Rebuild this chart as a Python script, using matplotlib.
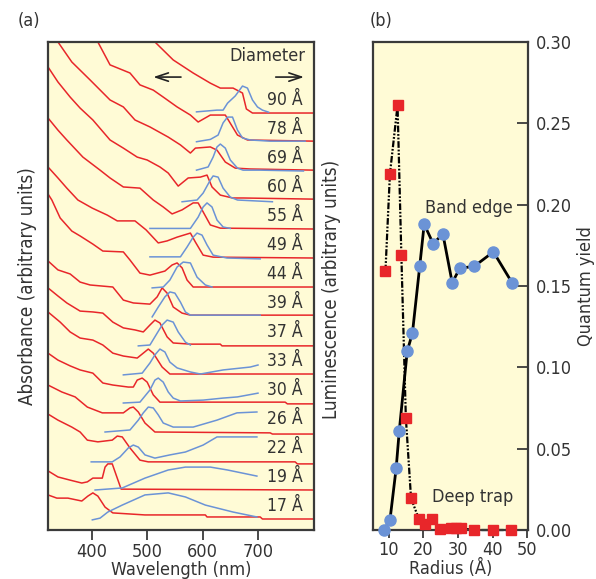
import matplotlib
matplotlib.use('Agg')
import matplotlib.pyplot as plt
from matplotlib import font_manager as fm

# ---------------- font selection (condensed sans if available) ----------------
FONT = 'Liberation Sans'
STRETCH = 'normal'
_entries = fm.fontManager.ttflist
for _e in _entries:
    if _e.name == 'Liberation Sans Narrow' and _e.style == 'normal':
        FONT, STRETCH = _e.name, _e.stretch
        break
else:
    for _e in _entries:
        fn = _e.fname
        if ('Condensed' in fn or 'Narrow' in fn) and 'Sans' in fn and not any(
                s in fn for s in ('Bold', 'Oblique', 'Italic', 'Mono', 'Serif', 'Light', 'ExtraLight')):
            FONT, STRETCH = _e.name, _e.stretch
            break
plt.rcParams['font.family'] = [FONT, 'DejaVu Sans']
plt.rcParams['font.stretch'] = STRETCH

# ---------------- data: panel (a) ----------------
diameters = [17, 19, 22, 26, 30, 33, 37, 39, 44, 49, 55, 60, 69, 78, 90]

abs_wl_17 = [321, 337, 357, 382, 393, 402, 411, 424, 438, 496, 605, 608, 704, 708, 802]
abs_val_17 = [0.83, 0.72, 0.72, 0.62, 0.79, 0.90, 0.79, 0.41, 0.21, 0.14, 0.14, 0.07, 0.07, 0.0, 0.0]
abs_wl_19 = [321, 339, 361, 382, 392, 402, 419, 424, 429, 437, 446, 453, 802]
abs_val_19 = [0.66, 0.45, 0.34, 0.24, 0.28, 0.41, 0.41, 0.79, 0.90, 0.90, 0.41, 0.03, 0.0]
abs_wl_22 = [321, 339, 364, 379, 392, 411, 437, 446, 455, 469, 487, 502, 767, 771, 802]
abs_val_22 = [1.62, 1.41, 1.17, 1.00, 0.72, 0.66, 0.72, 0.86, 0.83, 0.45, 0.03, -0.03, -0.03, -0.10, -0.10]
abs_wl_26 = [321, 346, 370, 392, 419, 457, 469, 475, 484, 496, 514, 722, 726, 802]
abs_val_26 = [1.62, 1.38, 1.21, 0.86, 0.66, 0.66, 0.83, 0.86, 0.69, 0.31, 0.0, -0.03, -0.07, -0.07]
abs_wl_30 = [321, 339, 361, 379, 402, 420, 438, 466, 475, 482, 491, 500, 511, 523, 749, 753, 802]
abs_val_30 = [1.72, 1.48, 1.28, 1.14, 1.03, 0.69, 0.62, 0.55, 0.55, 0.79, 0.86, 0.72, 0.28, 0.03, 0.03, -0.03, -0.03]
abs_wl_33 = [321, 343, 361, 379, 402, 420, 438, 457, 482, 493, 502, 511, 527, 541, 802]
abs_val_33 = [2.14, 1.79, 1.45, 1.24, 1.17, 1.00, 0.72, 0.62, 0.55, 0.72, 0.86, 0.72, 0.24, 0.0, 0.0]
abs_wl_37 = [321, 339, 355, 379, 402, 420, 438, 457, 478, 493, 505, 514, 523, 536, 547, 578, 632, 635, 802]
abs_val_37 = [1.97, 1.69, 1.45, 1.17, 1.14, 1.10, 0.79, 0.59, 0.52, 0.45, 0.69, 0.86, 0.76, 0.28, 0.07, 0.03, 0.03, -0.03, -0.03]
abs_wl_39 = [321, 339, 361, 379, 397, 438, 457, 475, 505, 518, 527, 536, 547, 563, 578, 802]
abs_val_39 = [1.90, 1.59, 1.45, 1.17, 1.07, 1.00, 0.55, 0.45, 0.41, 0.66, 0.97, 0.79, 0.31, 0.10, 0.03, 0.03]
abs_wl_44 = [321, 328, 343, 364, 379, 402, 420, 457, 469, 487, 505, 532, 545, 554, 563, 572, 583, 802]
abs_val_44 = [3.21, 3.00, 2.38, 1.93, 1.76, 1.48, 1.24, 1.21, 0.93, 0.48, 0.41, 0.55, 0.76, 0.83, 0.66, 0.24, 0.0, 0.0]
abs_wl_49 = [321, 339, 355, 375, 401, 428, 446, 478, 498, 520, 536, 554, 578, 587, 601, 619, 802]
abs_val_49 = [3.14, 2.76, 2.41, 2.00, 1.72, 1.48, 1.28, 1.28, 0.97, 0.52, 0.59, 0.72, 0.86, 0.55, 0.10, 0.03, 0.0]
abs_wl_55 = [321, 339, 355, 384, 415, 433, 457, 487, 511, 529, 545, 563, 583, 592, 599, 614, 632, 802]
abs_val_55 = [3.83, 3.41, 3.07, 2.48, 2.03, 1.76, 1.45, 1.41, 1.00, 0.76, 0.52, 0.66, 0.90, 0.90, 0.66, 0.14, 0.03, 0.0]
abs_wl_60 = [321, 339, 361, 379, 402, 433, 457, 482, 500, 523, 538, 556, 574, 596, 608, 617, 632, 654, 673, 802]
abs_val_60 = [4.59, 4.07, 3.55, 3.17, 2.76, 2.07, 1.79, 1.48, 1.38, 1.14, 0.93, 0.48, 0.76, 0.79, 0.86, 0.45, 0.17, 0.07, 0.07, 0.03]
abs_wl_69 = [325, 339, 364, 397, 433, 457, 478, 505, 538, 560, 578, 587, 614, 626, 641, 659, 686, 802]
abs_val_69 = [4.86, 4.45, 3.76, 3.14, 2.45, 2.21, 1.76, 1.52, 1.17, 0.90, 0.62, 0.79, 0.83, 0.72, 0.31, 0.10, 0.07, 0.03]
abs_wl_78 = [397, 411, 433, 469, 487, 511, 529, 554, 578, 592, 614, 641, 663, 681, 802]
abs_val_78 = [4.21, 3.45, 2.66, 2.38, 1.97, 1.79, 1.55, 1.21, 0.93, 0.69, 0.93, 0.93, 0.24, 0.07, 0.03]
abs_wl_90 = [487, 514, 547, 583, 614, 632, 655, 672, 679, 690, 802]
abs_val_90 = [3.03, 2.45, 1.83, 1.38, 1.03, 0.86, 0.86, 0.69, 0.14, 0.0, 0.0]

lum_wl_17 = [401, 415, 429, 455, 496, 538, 569, 605, 655, 698]
lum_val_17 = [-0.03, 0.03, 0.24, 0.48, 0.83, 0.90, 0.76, 0.48, 0.24, 0.07]
lum_wl_19 = [406, 455, 496, 538, 569, 614, 645, 698]
lum_val_19 = [0.0, 0.07, 0.41, 0.69, 0.79, 0.79, 0.69, 0.48]
lum_wl_22 = [399, 437, 451, 466, 475, 484, 496, 514, 541, 569, 601, 626, 644, 698]
lum_val_22 = [-0.03, -0.03, 0.14, 0.45, 0.55, 0.48, 0.21, 0.10, 0.21, 0.31, 0.55, 0.83, 0.83, 0.83]
lum_wl_26 = [424, 469, 484, 493, 502, 511, 520, 529, 547, 583, 626, 662, 698]
lum_val_26 = [0.0, 0.07, 0.41, 0.66, 0.86, 0.83, 0.59, 0.31, 0.17, 0.17, 0.41, 0.66, 0.69]
lum_wl_30 = [457, 487, 505, 514, 520, 529, 538, 547, 560, 601, 637, 663, 700]
lum_val_30 = [0.0, 0.03, 0.45, 0.79, 0.86, 0.72, 0.38, 0.17, 0.07, 0.10, 0.17, 0.21, 0.34]
lum_wl_33 = [457, 491, 505, 514, 523, 532, 541, 554, 578, 596, 637, 686, 700]
lum_val_33 = [-0.03, 0.03, 0.38, 0.66, 0.86, 0.76, 0.41, 0.21, 0.07, 0.0, 0.14, 0.24, 0.31]
lum_wl_37 = [484, 505, 518, 527, 536, 547, 556, 569, 578]
lum_val_37 = [-0.03, 0.0, 0.41, 0.69, 0.86, 0.79, 0.45, 0.10, 0.0]
lum_wl_39 = [509, 520, 532, 541, 550, 560, 569, 578, 704]
lum_val_39 = [-0.03, 0.31, 0.66, 0.83, 0.79, 0.48, 0.14, 0.03, 0.03]
lum_wl_44 = [509, 529, 541, 554, 565, 578, 590, 605, 617]
lum_val_44 = [-0.03, 0.0, 0.24, 0.69, 0.86, 0.83, 0.34, 0.07, 0.0]
lum_wl_49 = [505, 560, 572, 583, 590, 599, 608, 619, 644, 704]
lum_val_49 = [0.04, 0.04, 0.38, 0.72, 0.86, 0.79, 0.45, 0.10, 0.0, -0.03]
lum_wl_55 = [505, 578, 592, 601, 608, 617, 626, 637, 650]
lum_val_55 = [0.02, 0.02, 0.41, 0.76, 0.90, 0.76, 0.31, 0.07, 0.02]
lum_wl_60 = [563, 590, 601, 614, 619, 628, 637, 650, 663, 726]
lum_val_60 = [-0.06, 0.0, 0.24, 0.69, 0.83, 0.79, 0.41, 0.10, 0.0, -0.06]
lum_wl_69 = [589, 610, 619, 626, 632, 641, 650, 663, 673, 704, 782]
lum_val_69 = [0.03, 0.14, 0.48, 0.83, 0.93, 0.79, 0.38, 0.10, 0.03, 0.03, 0.0]
lum_wl_78 = [589, 614, 628, 637, 645, 654, 663, 672, 686, 722, 785]
lum_val_78 = [0.01, 0.09, 0.24, 0.66, 0.86, 0.86, 0.41, 0.14, 0.07, 0.03, 0.03]
lum_wl_90 = [589, 626, 637, 645, 659, 672, 681, 690, 699, 708, 719]
lum_val_90 = [0.04, 0.10, 0.10, 0.34, 0.59, 0.93, 0.86, 0.45, 0.21, 0.10, 0.03]

wl_ticks = [400, 500, 600, 700]

# ---------------- data: panel (b) ----------------
deep_radius = [9.0, 10.3, 12.5, 13.6, 14.9, 16.4, 18.7, 20.5, 22.5, 24.8, 27.9, 29.3, 30.9, 34.7, 40.0, 45.2]
deep_yield = [0.159, 0.219, 0.261, 0.169, 0.069, 0.0195, 0.0066, 0.0035, 0.0068, 0.0004,
              0.001, 0.001, 0.001, 0.0, 0.0, 0.0]
band_radius = [8.6, 10.3, 12.1, 13.0, 15.3, 16.8, 18.9, 20.2, 22.8, 25.6, 28.3, 30.5, 34.6, 40.2, 45.6]
band_yield = [0.0, 0.006, 0.038, 0.061, 0.110, 0.121, 0.162, 0.188, 0.176, 0.182, 0.152, 0.161,
              0.162, 0.171, 0.152]
radius_ticks = [10, 20, 30, 40, 50]
yield_ticks = [0.00, 0.05, 0.10, 0.15, 0.20, 0.25, 0.30]

# ---------------- styling ----------------
BG = '#fffbd6'
RED = '#e8262a'
BLUE = '#6b93d6'
SPINE = '#3a3a3a'
TXT = '#333333'
FS = 13

abs_wl = [abs_wl_17, abs_wl_19, abs_wl_22, abs_wl_26, abs_wl_30, abs_wl_33, abs_wl_37, abs_wl_39,
          abs_wl_44, abs_wl_49, abs_wl_55, abs_wl_60, abs_wl_69, abs_wl_78, abs_wl_90]
abs_val = [abs_val_17, abs_val_19, abs_val_22, abs_val_26, abs_val_30, abs_val_33, abs_val_37, abs_val_39,
           abs_val_44, abs_val_49, abs_val_55, abs_val_60, abs_val_69, abs_val_78, abs_val_90]
lum_wl = [lum_wl_17, lum_wl_19, lum_wl_22, lum_wl_26, lum_wl_30, lum_wl_33, lum_wl_37, lum_wl_39,
          lum_wl_44, lum_wl_49, lum_wl_55, lum_wl_60, lum_wl_69, lum_wl_78, lum_wl_90]
lum_val = [lum_val_17, lum_val_19, lum_val_22, lum_val_26, lum_val_30, lum_val_33, lum_val_37, lum_val_39,
           lum_val_44, lum_val_49, lum_val_55, lum_val_60, lum_val_69, lum_val_78, lum_val_90]

fig = plt.figure(figsize=(5.96, 5.79), dpi=100)
fig.patch.set_facecolor('white')

# ---------------- panel (a) ----------------
axa = fig.add_axes([0.0805, 0.0846, 0.4463, 0.8429])
axa.set_facecolor(BG)
for k, d in enumerate(diameters):
    axa.plot(abs_wl[k], [k + v for v in abs_val[k]], color=RED, lw=1.1, zorder=2)
    axa.plot(lum_wl[k], [k + v for v in lum_val[k]], color=BLUE, lw=1.1, zorder=3)
    axa.text(780, k + 0.45, f'{d} Å', ha='right', va='center',
             fontsize=FS - 0.5, color=TXT, zorder=4)
axa.text(785, 15.97, 'Diameter', ha='right', va='center', fontsize=FS, color=TXT)
axa.annotate('', xy=(506, 15.24), xytext=(566, 15.24),
             arrowprops=dict(arrowstyle='->,head_length=0.9,head_width=0.3', color='#222222', lw=1.2))
axa.annotate('', xy=(788, 15.24), xytext=(727, 15.24),
             arrowprops=dict(arrowstyle='->,head_length=0.9,head_width=0.3', color='#222222', lw=1.2))
axa.set_xlim(321, 801)
axa.set_ylim(-0.38, 16.45)
axa.set_yticks([])
axa.set_xticks(wl_ticks)
axa.tick_params(axis='x', direction='out', length=7, width=1.3, color=SPINE,
                labelsize=FS, labelcolor=TXT, pad=2)
for s in axa.spines.values():
    s.set_color(SPINE)
    s.set_linewidth(1.6)
axa.set_xlabel('Wavelength (nm)', fontsize=FS, color=TXT, labelpad=0)
axa.set_ylabel('Absorbance (arbitrary units)', fontsize=FS + 0.5, color=TXT, labelpad=8)

# ---------------- panel (b) ----------------
axb = fig.add_axes([0.6258, 0.0846, 0.2601, 0.8429])
axb.set_facecolor(BG)
axb.plot(band_radius, band_yield, color='black', lw=2.0, zorder=2, clip_on=False)
axb.plot(deep_radius, deep_yield, color='black', lw=1.6, zorder=2, clip_on=False,
         dashes=(3.0, 0.8, 0.8, 0.8, 0.8, 0.8))
axb.plot(band_radius, band_yield, ls='none', marker='o', ms=8.0, mfc=BLUE, mec=BLUE,
         zorder=4, clip_on=False)
axb.plot(deep_radius, deep_yield, ls='none', marker='s', ms=7.2, mfc=RED, mec=RED,
         zorder=4, clip_on=False)
axb.text(45.9, 0.198, 'Band edge', ha='right', va='center', fontsize=FS, color=TXT)
axb.text(45.9, 0.020, 'Deep trap', ha='right', va='center', fontsize=FS, color=TXT)
axb.set_xlim(5.4, 50.2)
axb.set_ylim(0.0, 0.30)
axb.set_xticks(radius_ticks)
axb.set_yticks(yield_ticks)
axb.set_yticklabels([f'{t:.2f}' for t in yield_ticks])
axb.yaxis.tick_right()
axb.yaxis.set_label_position('right')
axb.tick_params(axis='y', direction='in', length=8, width=1.3, color=SPINE,
                labelsize=FS, labelcolor=TXT, pad=6)
axb.tick_params(axis='x', direction='out', length=6, width=1.3, color=SPINE,
                labelsize=FS, labelcolor=TXT, pad=2)
for s in axb.spines.values():
    s.set_color(SPINE)
    s.set_linewidth(1.6)
axb.set_xlabel('Radius (Å)', fontsize=FS, color=TXT, labelpad=0)
axb.set_ylabel('Quantum yield', fontsize=FS, color=TXT, labelpad=3, rotation=90)
fig.text(0.556, 0.50, 'Luminescence (arbitrary units)', rotation=90, ha='center', va='center',
         fontsize=FS + 0.5, color=TXT)

fig.text(0.048, 0.963, '(a)', ha='center', va='center', fontsize=FS, color=TXT)
fig.text(0.640, 0.963, '(b)', ha='center', va='center', fontsize=FS, color=TXT)

fig.savefig('out.png', dpi=100, facecolor='white')
